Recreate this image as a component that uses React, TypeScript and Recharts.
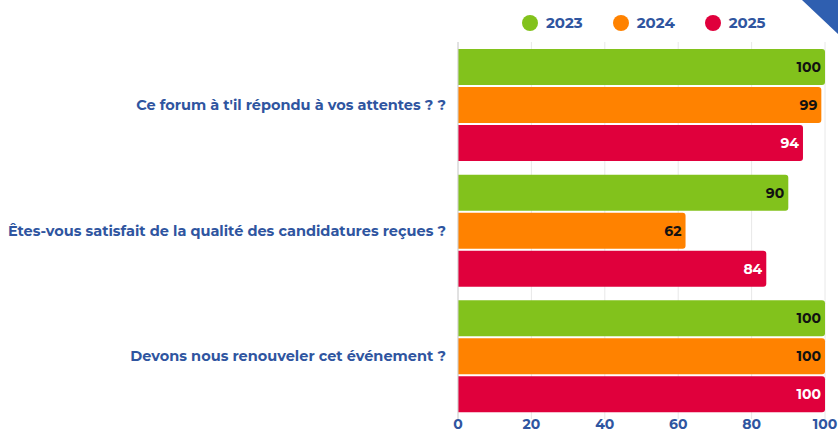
import { Bar, BarChart, CartesianGrid, LabelList, XAxis, YAxis } from "recharts"

const questions = [
  "Ce forum à t'il répondu à vos attentes ? ?",
  "Êtes-vous satisfait de la qualité des candidatures reçues ?",
  "Devons nous renouveler cet événement ?",
]
const values2023 = [100, 90, 100]
const values2024 = [99, 62, 100]
const values2025 = [94, 84, 100]
const xTicks = [0, 20, 40, 60, 80, 100]

const series = [
  { key: "y2023", name: "2023", color: "#82c21c", label: "#111111" },
  { key: "y2024", name: "2024", color: "#ff8200", label: "#111111" },
  { key: "y2025", name: "2025", color: "#e0003c", label: "#ffffff" },
]

const data = questions.map((q, i) => ({
  question: q,
  y2023: values2023[i],
  y2024: values2024[i],
  y2025: values2025[i],
}))

const blue = "#2f55a0"
const font = "Montserrat, 'Open Sans', Lato, sans-serif"

function LegendRow() {
  return (
    <div
      style={{
        position: "absolute",
        left: 522,
        top: 13,
        display: "flex",
        fontFamily: font,
        fontWeight: 700,
        fontSize: 15,
        color: blue,
      }}
    >
      {series.map((s, i) => (
        <div key={s.key} style={{ display: "flex", alignItems: "center", marginLeft: i === 0 ? 0 : 30 }}>
          <span style={{ width: 16, height: 16, borderRadius: 8, background: s.color, display: "inline-block", marginRight: 8 }} />
          {s.name}
        </div>
      ))}
    </div>
  )
}

export default function App() {
  return (
    <div style={{ position: "absolute", left: 0, top: 0, width: 838, height: 434, background: "#fff", overflow: "hidden" }}>
      <svg width={838} height={434} style={{ position: "absolute", left: 0, top: 0 }}>
        <polygon points="802,0 838,0 838,34" fill="#2f5fb0" />
      </svg>
      <LegendRow />
      <div style={{ position: "absolute", left: 0, top: 0 }}>
        <BarChart
          width={838}
          height={434}
          data={data}
          layout="vertical"
          margin={{ top: 42, right: 13, left: 0, bottom: 0 }}
          barCategoryGap={7}
          barGap={2}
          style={{ fontFamily: font }}
        >
          <CartesianGrid horizontal={false} stroke="#e8e8e8" />
          <XAxis
            type="number"
            domain={[0, 100]}
            ticks={xTicks}
            axisLine={false}
            tickLine={false}
            tickSize={0}
            tickMargin={0}
            height={15}
            tick={{ fill: blue, fontSize: 14, fontWeight: 700 }}
          />
          <YAxis
            type="category"
            dataKey="question"
            width={458}
            axisLine={{ stroke: "#d0d0d0" }}
            tickLine={false}
            tickSize={0}
            tickMargin={12}
            tick={{ fill: blue, fontSize: 14.5, fontWeight: 700 }}
          />
          {series.map((s) => (
            <Bar key={s.key} dataKey={s.key} name={s.name} fill={s.color} radius={[0, 3, 3, 0]} isAnimationActive={false}>
              <LabelList
                dataKey={s.key}
                position="insideRight"
                offset={4}
                style={{ fill: s.label, fontSize: 14, fontWeight: 700 }}
              />
            </Bar>
          ))}
        </BarChart>
      </div>
    </div>
  )
}
